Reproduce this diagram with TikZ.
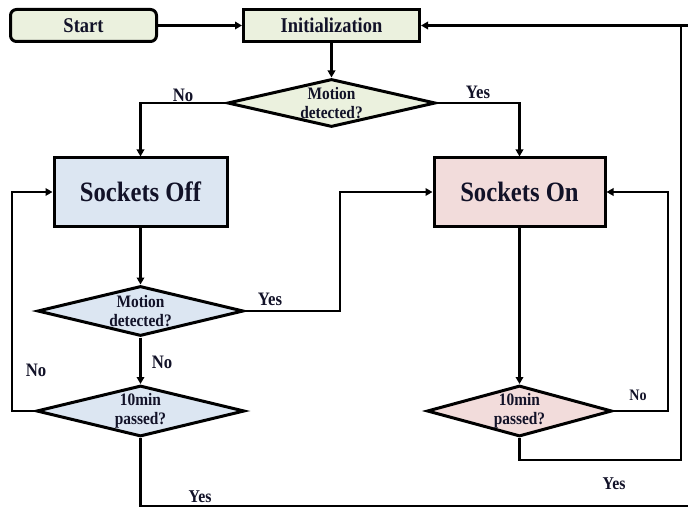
\documentclass[tikz,border=0pt]{standalone}
\usepackage{fontspec}
\setmainfont[FakeStretch=0.88]{Liberation Serif}
\usetikzlibrary{shapes.geometric,arrows.meta}
\definecolor{greenfill}{RGB}{235,241,222}
\definecolor{bluefill}{RGB}{220,230,242}
\definecolor{pinkfill}{RGB}{242,220,219}
\definecolor{txt}{RGB}{18,18,40}
\tikzset{
  box/.style={draw=black, line width=3pt, inner sep=0pt, text=txt, font=\bfseries},
  dia/.style={draw=black, line width=3pt, diamond, inner sep=0pt},
  diatext/.style={align=center, text=txt, font=\fontsize{17.5}{18.5}\selectfont\bfseries},
  conn/.style={line width=2.6pt, draw=black},
  arr/.style={conn, -{Triangle[length=7pt,width=7.5pt]}},
  lbl/.style={text=txt, font=\fontsize{19}{19}\selectfont\bfseries},
}
\begin{document}
\begin{tikzpicture}[x=1pt,y=-1pt]
\useasboundingbox (0,0) rectangle (688,508);
% nodes
\node[box, fill=greenfill, rounded corners=6pt, minimum width=146pt, minimum height=32pt, font=\fontsize{21}{21}\selectfont\bfseries] (start) at (83.5,25.5) {Start};
\node[box, fill=greenfill, minimum width=176pt, minimum height=32pt, font=\fontsize{21}{21}\selectfont\bfseries] (init) at (331.5,25.5) {Initialization};
\node[dia, fill=greenfill, minimum width=208pt, minimum height=48pt] (d1) at (331.5,103) {};
\node[diatext] (t1) at (d1) {Motion\\detected?};
\node[box, fill=bluefill, minimum width=173pt, minimum height=68pt, font=\fontsize{28}{28}\selectfont\bfseries] (off) at (140.5,192) {Sockets Off};
\node[box, fill=pinkfill, minimum width=171pt, minimum height=68pt, font=\fontsize{28}{28}\selectfont\bfseries] (on) at (519.5,192) {Sockets On};
\node[dia, fill=bluefill, minimum width=206pt, minimum height=50pt] (d2) at (140.5,311) {};
\node[diatext] (t2) at (d2) {Motion\\detected?};
\node[dia, fill=bluefill, minimum width=208pt, minimum height=51pt] (d3) at (140.5,411) {};
\node[diatext] (t3) at (d3) {10min\\passed?};
\node[dia, fill=pinkfill, minimum width=185pt, minimum height=51pt] (d4) at (519.5,411) {};
\node[diatext] (t4) at (d4) {10min\\passed?};
% helper coordinates
\coordinate (c2) at (340,311);
\coordinate (c3) at (12,411);
\coordinate (c4) at (668,411);
\coordinate (c5) at (681,460);
\coordinate (c6) at (140.5,506);
\coordinate (c7) at (690,506);
\coordinate (c8) at (690,25.5);
% connectors
\draw[arr] (start) -- (init);
\draw[arr] (init) -- (d1);
\draw[arr] (d1.west) -| (off.north);
\draw[arr] (d1.east) -| (on.north);
\draw[arr] (off) -- (d2);
\draw[arr] (d2.east) -- (c2) |- (on.west);
\draw[arr] (d2) -- (d3);
\draw[arr] (d3.west) -- (c3) |- (off.west);
\draw[conn] (d3.south) -- (c6) -- (c7);
\draw[arr] (on) -- (d4);
\draw[arr] (d4.east) -- (c4) |- (on.east);
\draw[conn] (d4.south) |- (c5) -- (c5 |- c8);
\draw[arr] (c8) -- (init.east);
% labels
\node[lbl] (l1) at (183,95) {No};
\node[lbl] (l2) at (478,92) {Yes};
\node[lbl] (l3) at (270,299) {Yes};
\node[lbl] (l4) at (162,362) {No};
\node[lbl] (l5) at (36,370) {No};
\node[lbl, font=\fontsize{18}{18}\selectfont\bfseries] (l6) at (200,497) {Yes};
\node[lbl, font=\fontsize{16}{16}\selectfont\bfseries] (l7) at (638,395) {No};
\node[lbl, font=\fontsize{18}{18}\selectfont\bfseries] (l8) at (614,484) {Yes};
\end{tikzpicture}
\end{document}
